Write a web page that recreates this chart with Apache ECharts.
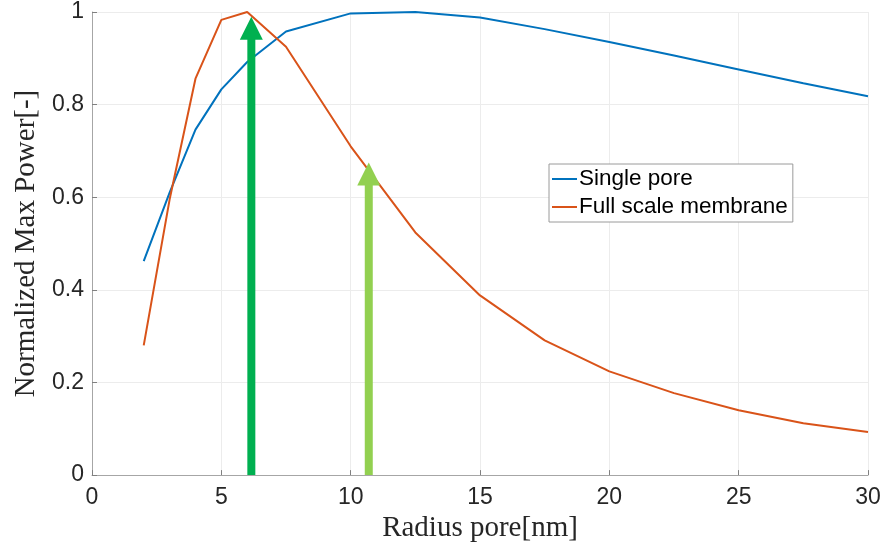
<!DOCTYPE html>
<html>
<head>
<meta charset="utf-8">
<script src="https://cdn.jsdelivr.net/npm/echarts@6/dist/echarts.min.js"></script>
<style>html,body{margin:0;padding:0;background:#fff}#c{width:884px;height:548px}</style>
</head>
<body>
<div id="c"></div>
<script>
const radius = [2, 3, 4, 5, 6, 7.5, 10, 12.5, 15, 17.5, 20, 22.5, 25, 27.5, 30];
const singlePore = [0.462, 0.61, 0.746, 0.833, 0.892, 0.958, 0.997, 1.0, 0.988, 0.963, 0.935, 0.906, 0.876, 0.846, 0.818];
const fullMembrane = [0.28, 0.595, 0.856, 0.983, 1.0, 0.925, 0.71, 0.524, 0.388, 0.291, 0.224, 0.177, 0.140, 0.112, 0.093];
const arrowX = [6.16, 10.7];
const arrowTop = [0.99, 0.675];
const arrowColors = ['#00B050', '#92D050'];
const seriesNames = ['Single pore', 'Full scale membrane'];
const xTitle = 'Radius pore[nm]';
const yTitle = 'Normalized Max Power[-]';

const chart = echarts.init(document.getElementById('c'), null, {renderer: 'canvas'});
const labelFont = {fontFamily: 'Liberation Sans, Arial, sans-serif', fontSize: 23, color: '#262626'};
const titleFont = {fontFamily: 'Liberation Serif, DejaVu Serif, serif', fontSize: 29, color: '#262626'};
const axisColor = '#a6a6a6';
chart.setOption({
  animation: false,
  grid: {left: 92, right: 16, top: 12, bottom: 72, containLabel: false},
  legend: {
    data: seriesNames.map(n => ({name: n, icon: 'rect'})),
    orient: 'vertical',
    left: 549, top: 164,
    itemWidth: 25, itemHeight: 2, itemGap: 4,
    padding: [3, 5, 3, 3],
    backgroundColor: '#fff',
    borderColor: '#9a9a9a', borderWidth: 1,
    textStyle: {fontFamily: 'Liberation Sans, Arial, sans-serif', fontSize: 22.5, lineHeight: 24, color: '#000', padding: [0, 0, 0, -3]},
    z: 10
  },
  xAxis: {
    type: 'value', min: 0, max: 30, interval: 5,
    name: xTitle, nameLocation: 'middle', nameGap: 32, nameTextStyle: titleFont,
    axisLine: {lineStyle: {color: axisColor, width: 1}},
    axisTick: {inside: true, length: 5, lineStyle: {color: '#808080'}},
    axisLabel: Object.assign({margin: 11}, labelFont),
    splitLine: {show: true, lineStyle: {color: '#ececec', width: 1}}
  },
  yAxis: {
    type: 'value', min: 0, max: 1, interval: 0.2,
    name: yTitle, nameLocation: 'middle', nameGap: 50, nameTextStyle: titleFont,
    axisLine: {show: true, lineStyle: {color: axisColor, width: 1}},
    axisTick: {show: true, inside: true, length: 5, lineStyle: {color: '#808080'}},
    axisLabel: Object.assign({margin: 8}, labelFont),
    splitLine: {show: true, lineStyle: {color: '#ececec', width: 1}}
  },
  series: [
    {
      name: seriesNames[0], type: 'line', symbol: 'none', z: 2,
      data: radius.map((r, i) => [r, singlePore[i]]),
      lineStyle: {color: '#0072BD', width: 2}, itemStyle: {color: '#0072BD'}
    },
    {
      name: seriesNames[1], type: 'line', symbol: 'none', z: 2,
      data: radius.map((r, i) => [r, fullMembrane[i]]),
      lineStyle: {color: '#D95319', width: 2}, itemStyle: {color: '#D95319'}
    },
    {
      type: 'custom', z: 5, clip: false,
      data: arrowX.map((x, i) => ({value: [x, arrowTop[i]], itemStyle: {color: arrowColors[i]}})),
      renderItem: function (params, api) {
        const x = api.value(0), top = api.value(1);
        const p0 = api.coord([x, 0]);
        const p1 = api.coord([x, top]);
        const color = api.visual('color');
        const headH = 23, headW = 23, shaftW = 8;
        return {
          type: 'group',
          children: [
            {type: 'rect', shape: {x: p0[0] - shaftW / 2, y: p1[1] + headH - 1, width: shaftW, height: p0[1] - p1[1] - headH + 1}, style: {fill: color}},
            {type: 'polygon', shape: {points: [[p1[0], p1[1]], [p1[0] - headW / 2, p1[1] + headH], [p1[0] + headW / 2, p1[1] + headH]]}, style: {fill: color}}
          ]
        };
      }
    }
  ]
});
</script>
</body>
</html>
